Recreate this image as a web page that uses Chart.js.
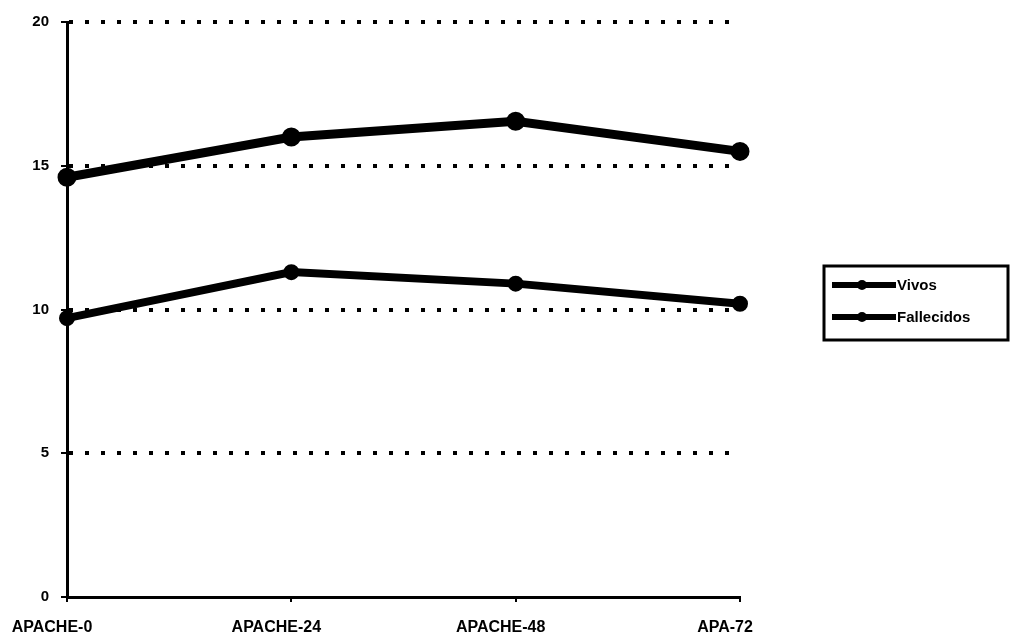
<!DOCTYPE html>
<html>
<head>
<meta charset="utf-8">
<script src="https://cdn.jsdelivr.net/npm/chart.js@4.4.0/dist/chart.umd.min.js"></script>
<style>
  html, body { margin: 0; padding: 0; background: #fff; }
  #wrap { width: 1010px; height: 641px; position: relative; }
</style>
</head>
<body>
<div id="wrap"><canvas id="chart"></canvas></div>
<script>
const categories = ["APACHE-0", "APACHE-24", "APACHE-48", "APA-72"];
const vivos = [9.7, 11.3, 10.9, 10.2];
const fallecidos = [14.6, 16.0, 16.55, 15.5];
const yTicks = [0, 5, 10, 15, 20];

const FONT = "'Liberation Sans', Arial, sans-serif";

// legend box drawn by hand, the scanned original has a framed legend on the right
const boxLegend = {
  id: "boxLegend",
  afterDraw(chart) {
    const ctx = chart.ctx;
    const x = 824, y = 266, w = 184, h = 74;
    ctx.save();
    ctx.strokeStyle = "#000";
    ctx.lineWidth = 3;
    ctx.strokeRect(x, y, w, h);
    ctx.font = "bold 15px " + FONT;
    ctx.textBaseline = "middle";
    chart.data.datasets.forEach((ds, i) => {
      const cy = y + 19 + i * 32;
      ctx.strokeStyle = ds.borderColor;
      ctx.lineWidth = 6;
      ctx.beginPath();
      ctx.moveTo(x + 8, cy);
      ctx.lineTo(x + 72, cy);
      ctx.stroke();
      ctx.fillStyle = ds.borderColor;
      ctx.beginPath();
      ctx.arc(x + 38, cy, 5, 0, Math.PI * 2);
      ctx.fill();
      ctx.fillText(ds.label, x + 73, cy + 1);
    });
    ctx.restore();
  }
};

new Chart(document.getElementById("chart"), {
  type: "line",
  data: {
    labels: categories,
    datasets: [
      {
        label: "Vivos",
        data: vivos,
        borderColor: "#000",
        backgroundColor: "#000",
        borderWidth: 8,
        pointRadius: 4,
        pointBackgroundColor: "#000",
        tension: 0,
      },
      {
        label: "Fallecidos",
        data: fallecidos,
        borderColor: "#000",
        backgroundColor: "#000",
        borderWidth: 9,
        pointRadius: 5,
        pointBackgroundColor: "#000",
        tension: 0,
      },
    ],
  },
  options: {
    responsive: true,
    maintainAspectRatio: false,
    animation: false,
    layout: { padding: { top: 22, right: 270, left: 0, bottom: 0 } },
    plugins: { legend: { display: false }, tooltip: { enabled: false } },
    scales: {
      x: {
        offset: false,
        grid: { display: true, drawOnChartArea: false, tickLength: 5, color: "#000", lineWidth: 2 },
        border: { color: "#000", width: 3 },
        ticks: {
          color: "#000",
          font: { family: FONT, size: 16, weight: "bold" },
          padding: 16,
          labelOffset: -15,
          maxRotation: 0,
          autoSkip: false,
        },
        afterFit(scale) { scale.height = 44; },
      },
      y: {
        min: 0,
        max: 20,
        afterBuildTicks(scale) { scale.ticks = yTicks.map(v => ({ value: v })); },
        grid: {
          color: (c) => (c.tick && c.tick.value === 0 ? "rgba(0,0,0,0)" : "#000"),
          lineWidth: 4,
          tickLength: 6,
          tickBorderDash: [],
          tickColor: "#000",
          tickWidth: 2,
          drawTicks: true,
        },
        border: { color: "#000", width: 3, dash: [4, 12] },
        ticks: {
          color: "#000",
          font: { family: FONT, size: 15, weight: "bold" },
          padding: 12,
        },
        afterFit(scale) { scale.width = 67; },
      },
    },
  },
  plugins: [boxLegend],
});
</script>
</body>
</html>
